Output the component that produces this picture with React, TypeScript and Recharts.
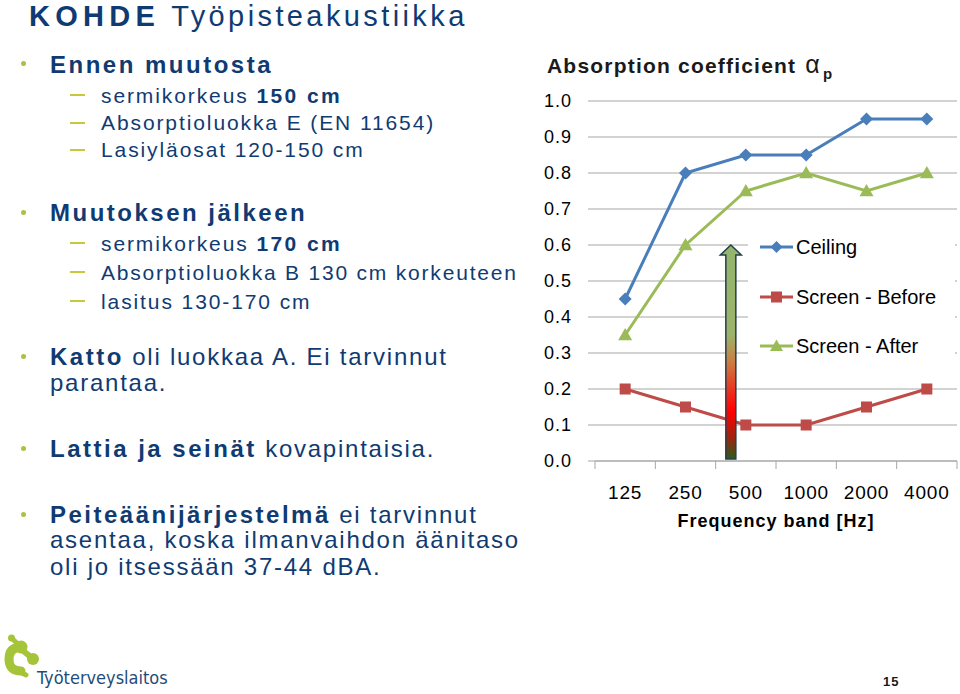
import React from 'react';
import { LineChart, Line, XAxis, YAxis, CartesianGrid, Legend, ReferenceLine } from 'recharts';

const frequencies = ['125', '250', '500', '1000', '2000', '4000'];
const ceiling = [0.45, 0.8, 0.85, 0.85, 0.95, 0.95];
const screenBefore = [0.2, 0.15, 0.1, 0.1, 0.15, 0.2];
const screenAfter = [0.35, 0.6, 0.75, 0.8, 0.75, 0.8];
const yTicks = [0, 0.1, 0.2, 0.3, 0.4, 0.5, 0.6, 0.7, 0.8, 0.9, 1.0];
const seriesOrder = ['ceiling', 'before', 'after'];
const arrowFrom = 0;
const arrowTo = 0.6;
const arrowBand = '500';

const data = frequencies.map((f, i) => ({
  freq: f,
  ceiling: ceiling[i],
  before: screenBefore[i],
  after: screenAfter[i],
}));

const FONT = "'Liberation Sans', Arial, sans-serif";
const TEXT = '#0f3b72';
const BLUE = '#4a7ebb';
const RED = '#be4b48';
const GREEN = '#9bbb59';
const GRID = '#a6a6a6';

const CH_W = 420;
const CH_H = 520;
const M = { top: 61, right: 3, left: 8, bottom: 29 };
const Y_W = 47;
const PLOT_W = CH_W - M.left - M.right - Y_W;
const BAND = PLOT_W / frequencies.length;

const Diamond = ({ cx, cy, mcolor, msize = 6.5 }: any) =>
  cx == null ? null : (
    <path d={`M${cx} ${cy - msize}L${cx + msize} ${cy}L${cx} ${cy + msize}L${cx - msize} ${cy}Z`} fill={mcolor} />
  );
const Square = ({ cx, cy, mcolor, msize = 5.5 }: any) =>
  cx == null ? null : <rect x={cx - msize} y={cy - msize} width={msize * 2} height={msize * 2} fill={mcolor} />;
const Triangle = ({ cx, cy, mcolor, msize = 7 }: any) =>
  cx == null ? null : (
    <path d={`M${cx} ${cy - msize}L${cx + msize} ${cy + msize * 0.75}L${cx - msize} ${cy + msize * 0.75}Z`} fill={mcolor} />
  );

const markers: Record<string, any> = { ceiling: Diamond, before: Square, after: Triangle };
const legendSizes: Record<string, number> = { ceiling: 6, before: 5.5, after: 6.5 };

const XTick = (props: any) => {
  const { x, y, payload, index } = props;
  const last = index === frequencies.length - 1;
  return (
    <g>
      <line x1={x - BAND / 2} y1={y} x2={x - BAND / 2} y2={y + 8} stroke={GRID} />
      {last && <line x1={x + BAND / 2} y1={y} x2={x + BAND / 2} y2={y + 8} stroke={GRID} />}
      <text x={x} y={y + 38} textAnchor="middle" fontSize={19} fill="#000" fontFamily={FONT} letterSpacing={0.8}>
        {payload.value}
      </text>
    </g>
  );
};

const ArrowShape = (props: any) => {
  const { x1, y1, y2 } = props;
  if (x1 == null) return null;
  const cx = x1 - 15;
  const top = Math.min(y1, y2);
  const bot = Math.max(y1, y2) - 2;
  const d = `M${cx - 5} ${bot}L${cx - 5} ${top + 10}L${cx - 10.5} ${top + 10}L${cx} ${top}L${cx + 10.5} ${top + 10}L${cx + 5} ${top + 10}L${cx + 5} ${bot}Z`;
  return (
    <g>
      <defs>
        <linearGradient id="arrowGrad" x1="0" y1="0" x2="0" y2="1">
          <stop offset="0%" stopColor="#93b56c" />
          <stop offset="42%" stopColor="#9db36a" />
          <stop offset="55%" stopColor="#cc7c42" />
          <stop offset="70%" stopColor="#f0261a" />
          <stop offset="78%" stopColor="#ff0000" />
          <stop offset="90%" stopColor="#9c2410" />
          <stop offset="100%" stopColor="#2c5c1c" />
        </linearGradient>
      </defs>
      <path d={d} fill="url(#arrowGrad)" stroke="#233f4e" strokeWidth={1.5} />
    </g>
  );
};

const LegendContent = (props: any) => {
  const payload = [...(props.payload || [])].sort(
    (a: any, b: any) => seriesOrder.indexOf(a.dataKey) - seriesOrder.indexOf(b.dataKey)
  );
  const rows = [16, 66, 115];
  return (
    <div style={{ position: 'relative', width: 207, height: 134, background: '#fff' }}>
      {payload.map((p: any, i: number) => {
        const Mk = markers[p.dataKey];
        return (
          <div key={p.value} style={{ position: 'absolute', left: 12, top: rows[i] - 11, height: 22, display: 'flex', alignItems: 'center' }}>
            <svg width={36} height={22} style={{ display: 'block' }}>
              <line x1={0} y1={11} x2={33} y2={11} stroke={p.color} strokeWidth={3} />
              <Mk cx={16.5} cy={11} mcolor={p.color} msize={legendSizes[p.dataKey]} />
            </svg>
            <span style={{ fontFamily: FONT, fontSize: 20, color: '#000', whiteSpace: 'nowrap', lineHeight: '22px' }}>
              {p.value}
            </span>
          </div>
        );
      })}
    </div>
  );
};

const T = ({ top, left, size, bold, spacing, children }: any) => (
  <div
    style={{
      position: 'absolute',
      top,
      left,
      fontSize: size,
      lineHeight: 1,
      fontWeight: bold ? 'bold' : 'normal',
      letterSpacing: spacing,
      color: TEXT,
      whiteSpace: 'nowrap',
      fontFamily: FONT,
    }}
  >
    {children}
  </div>
);

const Dot = ({ top }: any) => (
  <div style={{ position: 'absolute', left: 21, top, width: 5, height: 5, borderRadius: 3, background: '#a9c23f' }} />
);
const Dash = ({ top }: any) => (
  <div style={{ position: 'absolute', left: 70, top, width: 15, height: 2, background: '#c8c83c' }} />
);

const B = ({ children, sp }: any) => <span style={{ fontWeight: 'bold', letterSpacing: sp }}>{children}</span>;

const BS = 2.5; // bold spacing
const NS = 1.75; // normal spacing
const SS = 1.9; // sub-item spacing

export default function App() {
  return (
    <div style={{ position: 'absolute', left: 0, top: 0, width: 960, height: 694, background: '#fff', overflow: 'hidden', fontFamily: FONT }}>
      <T top={2} left={29} size={29} spacing={3.4}>
        <B sp={5.3}>KOHDE</B> Työpisteakustiikka
      </T>

      <Dot top={61} />
      <T top={52.7} left={50} size={24} spacing={BS} bold>Ennen muutosta</T>
      <Dash top={94} />
      <T top={84.9} left={101} size={21} spacing={SS}>sermikorkeus <B sp={2.4}>150 cm</B></T>
      <Dash top={122} />
      <T top={112.1} left={101} size={21} spacing={SS}>Absorptioluokka E (EN 11654)</T>
      <Dash top={149} />
      <T top={139.1} left={101} size={21} spacing={SS}>Lasiyläosat 120-150 cm</T>

      <Dot top={210} />
      <T top={201.2} left={50} size={24} spacing={BS} bold>Muutoksen jälkeen</T>
      <Dash top={242} />
      <T top={233.1} left={101} size={21} spacing={SS}>sermikorkeus <B sp={2.4}>170 cm</B></T>
      <Dash top={271} />
      <T top={261.5} left={101} size={21} spacing={1.8}>Absorptioluokka B 130 cm korkeuteen</T>
      <Dash top={300} />
      <T top={290.5} left={101} size={21} spacing={SS}>lasitus 130-170 cm</T>

      <Dot top={354} />
      <T top={345} left={50} size={24} spacing={NS}><B sp={BS}>Katto</B> oli luokkaa A. Ei tarvinnut</T>
      <T top={371} left={50} size={24} spacing={NS}>parantaa.</T>

      <Dot top={446} />
      <T top={436.5} left={50} size={24} spacing={NS}><B sp={BS}>Lattia ja seinät</B> kovapintaisia.</T>

      <Dot top={512} />
      <T top={502.5} left={50} size={24} spacing={NS}><B sp={BS}>Peiteäänijärjestelmä</B> ei tarvinnut</T>
      <T top={528} left={50} size={24} spacing={NS}>asentaa, koska ilmanvaihdon äänitaso</T>
      <T top={554.5} left={50} size={24} spacing={NS}>oli jo itsessään 37-44 dBA.</T>

      {/* chart title */}
      <div style={{ position: 'absolute', left: 547, top: 52, fontSize: 21, lineHeight: 1, fontWeight: 'bold', letterSpacing: 1.2, color: '#1a1a1a', whiteSpace: 'nowrap', fontFamily: FONT }}>
        Absorption coefficient <span style={{ fontWeight: 'normal', fontSize: 25, marginLeft: 2 }}>α</span>
        <span style={{ fontSize: 15, position: 'relative', top: 6, marginLeft: 2 }}>p</span>
      </div>

      <div style={{ position: 'absolute', left: 540, top: 40, width: CH_W, height: CH_H }}>
        <LineChart width={CH_W} height={CH_H} data={data} margin={M}>
          <CartesianGrid vertical={false} stroke={GRID} strokeWidth={1} />
          <XAxis
            dataKey="freq"
            type="category"
            scale="band"
            height={70}
            axisLine={{ stroke: GRID }}
            tickLine={false}
            tickSize={0}
            tickMargin={0}
            interval={0}
            tick={<XTick />}
            label={{
              value: 'Frequency band [Hz]',
              position: 'insideBottom',
              offset: 4,
              style: { fontSize: 18, fontWeight: 'bold', fill: '#000', fontFamily: FONT, letterSpacing: 1 },
            }}
          />
          <YAxis
            type="number"
            domain={[0, 1]}
            ticks={yTicks}
            interval={0}
            width={Y_W}
            axisLine={false}
            tickLine={{ stroke: GRID }}
            tickSize={7}
            tickMargin={16}
            tickFormatter={(v: number) => v.toFixed(1)}
            tick={{ fontSize: 18, fill: '#000', fontFamily: FONT, letterSpacing: 1 }}
          />
          <Line dataKey="ceiling" name="Ceiling" stroke={BLUE} strokeWidth={3} dot={<Diamond mcolor={BLUE} msize={6.5} />} activeDot={false} isAnimationActive={false} />
          <Line dataKey="before" name="Screen - Before" stroke={RED} strokeWidth={3} dot={<Square mcolor={RED} msize={5.5} />} activeDot={false} isAnimationActive={false} />
          <Line dataKey="after" name="Screen - After" stroke={GREEN} strokeWidth={3} dot={<Triangle mcolor={GREEN} msize={7} />} activeDot={false} isAnimationActive={false} />
          <ReferenceLine
            segment={[{ x: arrowBand, y: arrowFrom }, { x: arrowBand, y: arrowTo }]}
            shape={<ArrowShape />}
            isFront
          />
          <Legend
            layout="vertical"
            align="center"
            verticalAlign="middle"
            content={<LegendContent />}
            wrapperStyle={{ left: 208, top: 191, width: 207, height: 134 }}
          />
        </LineChart>
      </div>

      {/* logo */}
      <svg style={{ position: 'absolute', left: 0, top: 628 }} width={45} height={60}>
        <g fill="#a6c43a" stroke="#a6c43a">
          <circle cx={11.5} cy={10} r={3.5} stroke="none" />
          <line x1={11.5} y1={10} x2={20} y2={18} strokeWidth={5} strokeLinecap="round" />
          <circle cx={21} cy={19} r={6.5} stroke="none" />
          <path d="M20 19 Q9 20 9 31 Q9 43 21 43" fill="none" strokeWidth={9} strokeLinecap="round" />
          <line x1={21} y1={21} x2={32} y2={30} strokeWidth={6} strokeLinecap="round" />
          <circle cx={33} cy={31} r={6} stroke="none" />
          <line x1={18} y1={43} x2={26} y2={47} strokeWidth={5} strokeLinecap="round" />
        </g>
      </svg>
      <div style={{ position: 'absolute', left: 37, top: 669, fontSize: 18, lineHeight: 1, color: '#1f4d7a', fontFamily: "'Liberation Sans Narrow', 'DejaVu Sans Condensed', sans-serif", whiteSpace: 'nowrap' }}>
        Työterveyslaitos
      </div>
      <div style={{ position: 'absolute', left: 883, top: 675, fontSize: 13, lineHeight: 1, fontWeight: 'bold', color: '#1a1a1a', letterSpacing: 1, fontFamily: FONT }}>
        15
      </div>
    </div>
  );
}
